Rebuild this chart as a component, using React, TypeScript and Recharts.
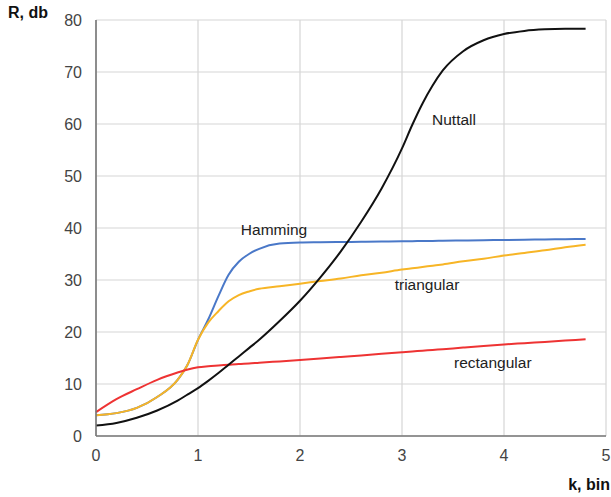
import { LineChart, Line, XAxis, YAxis, CartesianGrid, ReferenceDot } from 'recharts'

const bins = [0, 0.2, 0.4, 0.6, 0.8, 0.9, 1.0, 1.1, 1.2, 1.3, 1.4, 1.5, 1.6, 1.8, 2.0, 2.2, 2.4, 2.6, 2.8, 3.0, 3.1, 3.2, 3.3, 3.4, 3.6, 3.8, 4.0, 4.2, 4.4, 4.6, 4.8]
const rectangular = [4.6, 7.1, 9.0, 10.8, 12.2, 12.8, 13.2, 13.4, 13.55, 13.7, 13.85, 13.95, 14.1, 14.35, 14.6, 14.9, 15.2, 15.5, 15.8, 16.1, 16.25, 16.4, 16.55, 16.7, 17.0, 17.3, 17.6, 17.85, 18.1, 18.35, 18.6]
const triangular = [4.0, 4.4, 5.4, 7.5, 10.8, 13.8, 18.5, 21.8, 24.0, 25.9, 27.1, 27.8, 28.3, 28.8, 29.3, 29.8, 30.3, 30.9, 31.4, 32.0, 32.25, 32.5, 32.75, 33.0, 33.6, 34.1, 34.7, 35.2, 35.7, 36.3, 36.8]
const hamming = [4.0, 4.4, 5.4, 7.5, 10.8, 13.8, 18.5, 22.4, 26.9, 31.0, 33.5, 35.0, 36.0, 37.0, 37.2, 37.25, 37.3, 37.35, 37.4, 37.45, 37.47, 37.5, 37.52, 37.55, 37.6, 37.65, 37.7, 37.75, 37.8, 37.85, 37.9]
const nuttall = [2.0, 2.5, 3.5, 4.9, 6.8, 8.0, 9.2, 10.6, 12.1, 13.7, 15.3, 16.9, 18.5, 22.1, 26.0, 30.5, 35.5, 41.2, 47.6, 55.3, 59.8, 63.9, 67.4, 70.3, 74.0, 76.1, 77.3, 77.9, 78.2, 78.3, 78.3]

const xTicks = [0, 1, 2, 3, 4, 5]
const yTicks = [0, 10, 20, 30, 40, 50, 60, 70, 80]

const seriesLabels = [
  { name: 'Hamming', x: 1.745, y: 39.7 },
  { name: 'Nuttall', x: 3.51, y: 60.8 },
  { name: 'triangular', x: 3.245, y: 29.1 },
  { name: 'rectangular', x: 3.89, y: 14.1 },
]

const data = bins.map((k, i) => ({
  k,
  rectangular: rectangular[i],
  triangular: triangular[i],
  hamming: hamming[i],
  nuttall: nuttall[i],
}))

const font = 'Arial, "Liberation Sans", sans-serif'
const tick = { fontSize: 16, fill: '#444', fontFamily: font }

export default function App() {
  return (
    <div style={{ position: 'absolute', left: 0, top: 0, width: 611, height: 497, background: '#fff', fontFamily: font }}>
      <LineChart width={611} height={497} data={data} margin={{ top: 20, right: 5, bottom: 31, left: 0 }}>
        <CartesianGrid stroke="#d6d6d6" strokeWidth={1.2} />
        <XAxis
          dataKey="k"
          type="number"
          domain={[0, 5]}
          ticks={xTicks}
          tick={tick}
          tickLine={false}
          stroke="#777"
          strokeWidth={1.6}
          height={30}
          tickMargin={8}
        />
        <YAxis
          type="number"
          domain={[0, 80]}
          ticks={yTicks}
          tick={tick}
          tickLine={false}
          stroke="#777"
          strokeWidth={1.6}
          width={96}
          tickMargin={8}
        />
        <Line dataKey="hamming" type="monotone" stroke="#4a78c8" strokeWidth={2} dot={false} isAnimationActive={false} />
        <Line dataKey="triangular" type="monotone" stroke="#f7b526" strokeWidth={2} dot={false} isAnimationActive={false} />
        <Line dataKey="rectangular" type="monotone" stroke="#ee3333" strokeWidth={2} dot={false} isAnimationActive={false} />
        <Line dataKey="nuttall" type="monotone" stroke="#111" strokeWidth={2} dot={false} isAnimationActive={false} />
        {seriesLabels.map((s) => (
          <ReferenceDot
            key={s.name}
            x={s.x}
            y={s.y}
            r={0}
            stroke="none"
            label={{ value: s.name, position: 'center', fontSize: 15.5, fill: '#222', fontFamily: font }}
          />
        ))}
      </LineChart>
      <div style={{ position: 'absolute', left: 8, top: 4, fontSize: 16, fontWeight: 'bold', color: '#111' }}>R, db</div>
      <div style={{ position: 'absolute', right: 1, top: 476, fontSize: 16, fontWeight: 'bold', color: '#111' }}>k, bin</div>
    </div>
  )
}
